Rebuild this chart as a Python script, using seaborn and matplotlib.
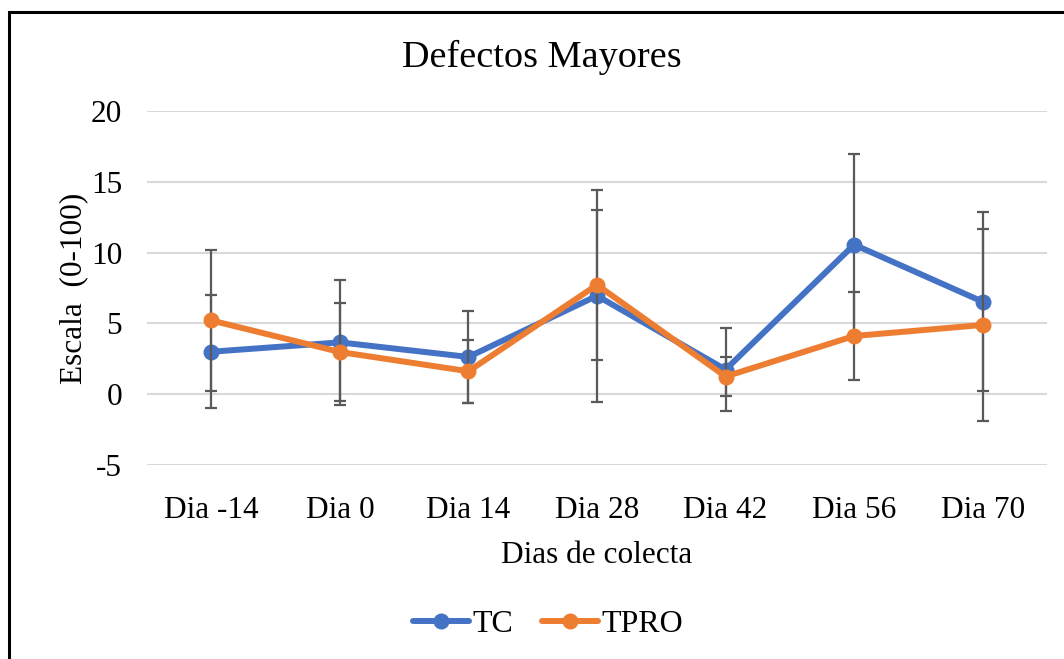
import matplotlib
matplotlib.use("Agg")
import matplotlib.pyplot as plt
from matplotlib.patches import Rectangle
import seaborn as sns
import pandas as pd

# Collection days and per-treatment means with symmetric error
dias = ["Dia -14", "Dia 0", "Dia 14", "Dia 28", "Dia 42", "Dia 56", "Dia 70"]
tc_mean = [3.0, 3.66, 2.63, 6.95, 1.74, 10.56, 6.53]
tc_err = [4.0, 4.4, 3.26, 7.5, 2.91, 6.39, 6.32]
tpro_mean = [5.21, 2.98, 1.62, 7.72, 1.25, 4.11, 4.89]
tpro_err = [4.98, 3.45, 2.21, 5.28, 1.39, 3.1, 6.76]

series = ["TC", "TPRO"]
colors = {"TC": "#4472C4", "TPRO": "#ED7D31"}

df = pd.concat([
    pd.DataFrame({"dia": dias, "valor": tc_mean, "err": tc_err, "serie": "TC"}),
    pd.DataFrame({"dia": dias, "valor": tpro_mean, "err": tpro_err, "serie": "TPRO"}),
], ignore_index=True)
df["x"] = df["dia"].map({d: i for i, d in enumerate(dias)})

sns.set_theme(style="white")
plt.rcParams["font.family"] = ["Liberation Serif", "DejaVu Serif"]
plt.rcParams["axes.unicode_minus"] = False
plt.rcParams["text.color"] = "black"
plt.rcParams["axes.labelcolor"] = "black"

fig = plt.figure(figsize=(10.64, 6.59), dpi=100)
ax = fig.add_axes([147 / 1064, 1 - 465 / 659, 900 / 1064, 354 / 659])

for k, s in enumerate(series):
    sub = df[df["serie"] == s]
    ax.errorbar(sub["x"], sub["valor"], yerr=sub["err"], fmt="none",
                ecolor="#595959", elinewidth=1.6, capsize=4.5, capthick=1.6,
                zorder=3 + 2 * k)
    sns.lineplot(data=sub, x="x", y="valor", color=colors[s], marker="o",
                 markersize=11.5, markeredgewidth=0, linewidth=4.3,
                 label=s, ax=ax, zorder=4 + 2 * k)

ax.set_xlim(-0.5, len(dias) - 0.5)
ax.set_ylim(-5, 20)
ax.set_yticks([-5, 0, 5, 10, 15, 20])
ax.set_xticks(range(len(dias)))
ax.set_xticklabels(dias)
ax.tick_params(axis="both", labelsize=22.5, length=0, colors="black")
ax.tick_params(axis="x", pad=22)
ax.tick_params(axis="y", pad=18)
ax.grid(axis="y", color="#d9d9d9", linewidth=1.5)
ax.grid(axis="x", visible=False)
for sp in ax.spines.values():
    sp.set_visible(False)

ax.set_xlabel("Dias de colecta", fontsize=22.5, labelpad=12)
ax.set_ylabel("Escala  (0-100)", fontsize=22.5, labelpad=2)
fig.text(542 / 1064, 1 - 57 / 659, "Defectos Mayores", fontsize=27.5,
         ha="center", va="center")

handles, labels = ax.get_legend_handles_labels()
ax.legend(handles, labels, loc="center", bbox_to_anchor=(548 / 1064, 1 - 624 / 659),
          bbox_transform=fig.transFigure, ncol=2, frameon=False, fontsize=23,
          handlelength=1.75, handletextpad=0.1, columnspacing=0.9)

fig.add_artist(Rectangle((9 / 1064, -0.2), 1.2, 1.2 - 12 / 659,
                         transform=fig.transFigure, fill=False,
                         edgecolor="black", linewidth=2.2, clip_on=False))

fig.savefig("out.png", dpi=100, facecolor="white")
